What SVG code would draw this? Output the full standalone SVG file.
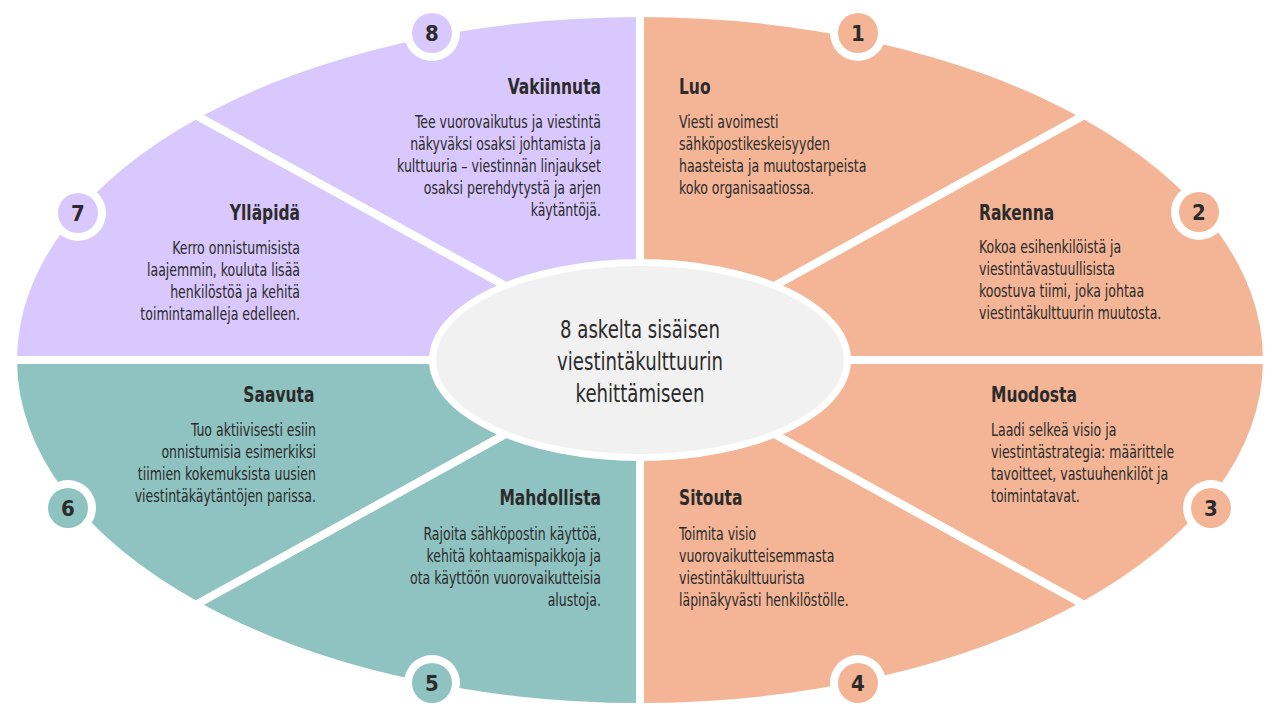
<svg xmlns="http://www.w3.org/2000/svg" width="1280" height="720" viewBox="0 0 1280 720">
<style>
.peach{fill:#F3B596}
.lav{fill:#D9C8FD}
.teal{fill:#8FC3C1}
.sep{stroke:#fff;stroke-width:8;fill:none}
.ring{fill:#fff}
.t{font-family:"DejaVu Sans Condensed","Liberation Sans Narrow","DejaVu Sans",sans-serif;fill:#2B2B2B}
.title{font-size:21px;font-weight:bold}
.body{font-size:17px}
.num{font-size:22px;font-weight:bold;text-anchor:middle}
.r{text-anchor:end}
.c{font-size:24px;text-anchor:middle}
</style>
<rect width="1280" height="720" fill="#fff"/>
<g id="seg1"><path class="peach" d="M640,360 L640,17 A623,343 0 0,1 1080.5,117.5 Z"/></g>
<g id="seg2"><path class="peach" d="M640,360 L1080.5,117.5 A623,343 0 0,1 1263,360 Z"/></g>
<g id="seg3"><path class="peach" d="M640,360 L1263,360 A623,343 0 0,1 1080.5,602.5 Z"/></g>
<g id="seg4"><path class="peach" d="M640,360 L1080.5,602.5 A623,343 0 0,1 640,703 Z"/></g>
<g id="seg5"><path class="teal" d="M640,360 L640,703 A623,343 0 0,1 199.5,602.5 Z"/></g>
<g id="seg6"><path class="teal" d="M640,360 L199.5,602.5 A623,343 0 0,1 17,360 Z"/></g>
<g id="seg7"><path class="lav" d="M640,360 L17,360 A623,343 0 0,1 199.5,117.5 Z"/></g>
<g id="seg8"><path class="lav" d="M640,360 L199.5,117.5 A623,343 0 0,1 640,17 Z"/></g>
<g id="connectors">
<line class="sep" x1="640" y1="0" x2="640" y2="720"/>
<line class="sep" x1="0" y1="360" x2="1280" y2="360"/>
<line class="sep" x1="640" y1="360" x2="190" y2="112"/>
<line class="sep" x1="640" y1="360" x2="1090" y2="112"/>
<line class="sep" x1="640" y1="360" x2="190" y2="608"/>
<line class="sep" x1="640" y1="360" x2="1090" y2="608"/>
</g>
<g id="center">
<ellipse cx="640" cy="360" rx="211" ry="101" fill="#fff"/>
<ellipse cx="640" cy="360" rx="204" ry="94" fill="#F1F1F1"/>
<g transform="translate(640,0) scale(0.84,1)">
<text class="t c" x="0" y="338">8 askelta sisäisen</text>
<text class="t c" x="0" y="370">viestintäkulttuurin</text>
<text class="t c" x="0" y="402">kehittämiseen</text>
</g>
</g>
<g id="step1">
<circle class="ring" cx="858" cy="33" r="28"/><circle class="peach" cx="858" cy="33" r="20"/>
<text class="t num" x="858" y="41">1</text>
<g transform="translate(679,0) scale(0.82,1)">
<text class="t title" x="0" y="94">Luo</text>
<text class="t body" x="0" y="128">Viesti avoimesti</text>
<text class="t body" x="0" y="150">sähköpostikeskeisyyden</text>
<text class="t body" x="0" y="172">haasteista ja muutostarpeista</text>
<text class="t body" x="0" y="194">koko organisaatiossa.</text>
</g>
</g>
<g id="step2">
<circle class="ring" cx="1199" cy="212" r="28"/><circle class="peach" cx="1199" cy="212" r="20"/>
<text class="t num" x="1199" y="220">2</text>
<g transform="translate(979,0) scale(0.82,1)">
<text class="t title" x="0" y="220">Rakenna</text>
<text class="t body" x="0" y="253">Kokoa esihenkilöistä ja</text>
<text class="t body" x="0" y="275">viestintävastuullisista</text>
<text class="t body" x="0" y="297">koostuva tiimi, joka johtaa</text>
<text class="t body" x="0" y="319">viestintäkulttuurin muutosta.</text>
</g>
</g>
<g id="step3">
<circle class="ring" cx="1211" cy="508" r="28"/><circle class="peach" cx="1211" cy="508" r="20"/>
<text class="t num" x="1211" y="516">3</text>
<g transform="translate(991,0) scale(0.82,1)">
<text class="t title" x="0" y="402">Muodosta</text>
<text class="t body" x="0" y="436">Laadi selkeä visio ja</text>
<text class="t body" x="0" y="458">viestintästrategia: määrittele</text>
<text class="t body" x="0" y="480">tavoitteet, vastuuhenkilöt ja</text>
<text class="t body" x="0" y="502">toimintatavat.</text>
</g>
</g>
<g id="step4">
<circle class="ring" cx="858" cy="683" r="28"/><circle class="peach" cx="858" cy="683" r="20"/>
<text class="t num" x="858" y="691">4</text>
<g transform="translate(679,0) scale(0.82,1)">
<text class="t title" x="0" y="505">Sitouta</text>
<text class="t body" x="0" y="540">Toimita visio</text>
<text class="t body" x="0" y="562">vuorovaikutteisemmasta</text>
<text class="t body" x="0" y="584">viestintäkulttuurista</text>
<text class="t body" x="0" y="606">läpinäkyvästi henkilöstölle.</text>
</g>
</g>
<g id="step5">
<circle class="ring" cx="432" cy="683" r="28"/><circle class="teal" cx="432" cy="683" r="20"/>
<text class="t num" x="432" y="691">5</text>
<g transform="translate(601,0) scale(0.82,1)">
<text class="t title r" x="0" y="505">Mahdollista</text>
<text class="t body r" x="0" y="540">Rajoita sähköpostin käyttöä,</text>
<text class="t body r" x="0" y="562">kehitä kohtaamispaikkoja ja</text>
<text class="t body r" x="0" y="584">ota käyttöön vuorovaikutteisia</text>
<text class="t body r" x="0" y="606">alustoja.</text>
</g>
</g>
<g id="step6">
<circle class="ring" cx="68" cy="508" r="28"/><circle class="teal" cx="68" cy="508" r="20"/>
<text class="t num" x="68" y="516">6</text>
<g transform="translate(316,0) scale(0.82,1)">
<text class="t title r" x="-2" y="402">Saavuta</text>
<text class="t body r" x="0" y="436">Tuo aktiivisesti esiin</text>
<text class="t body r" x="0" y="458">onnistumisia esimerkiksi</text>
<text class="t body r" x="0" y="480">tiimien kokemuksista uusien</text>
<text class="t body r" x="0" y="502">viestintäkäytäntöjen parissa.</text>
</g>
</g>
<g id="step7">
<circle class="ring" cx="78" cy="213" r="28"/><circle class="lav" cx="78" cy="213" r="20"/>
<text class="t num" x="78" y="221">7</text>
<g transform="translate(300,0) scale(0.82,1)">
<text class="t title r" x="0" y="220">Ylläpidä</text>
<text class="t body r" x="0" y="254">Kerro onnistumisista</text>
<text class="t body r" x="0" y="276">laajemmin, kouluta lisää</text>
<text class="t body r" x="0" y="298">henkilöstöä ja kehitä</text>
<text class="t body r" x="0" y="320">toimintamalleja edelleen.</text>
</g>
</g>
<g id="step8">
<circle class="ring" cx="432" cy="33" r="28"/><circle class="lav" cx="432" cy="33" r="20"/>
<text class="t num" x="432" y="41">8</text>
<g transform="translate(601,0) scale(0.82,1)">
<text class="t title r" x="0" y="94">Vakiinnuta</text>
<text class="t body r" x="0" y="128">Tee vuorovaikutus ja viestintä</text>
<text class="t body r" x="0" y="150">näkyväksi osaksi johtamista ja</text>
<text class="t body r" x="0" y="172">kulttuuria – viestinnän linjaukset</text>
<text class="t body r" x="0" y="194">osaksi perehdytystä ja arjen</text>
<text class="t body r" x="0" y="216">käytäntöjä.</text>
</g>
</g>
</svg>
